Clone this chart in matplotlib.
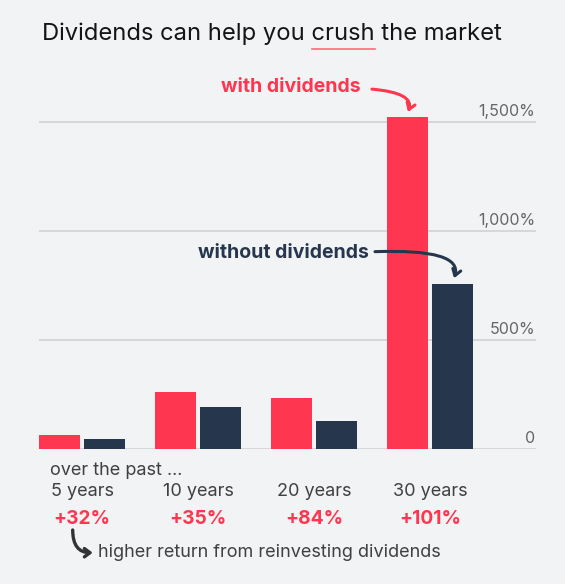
import matplotlib
matplotlib.use("Agg")
import matplotlib.pyplot as plt
import matplotlib.transforms as mtrans
import numpy as np

plt.rcParams["font.family"] = ["Inter", "DejaVu Sans"]

periods = ["5 years", "10 years", "20 years", "30 years"]
with_div = [64, 262, 234, 1523]
without_div = [48, 194, 128, 757]
extra = ["+32%", "+35%", "+84%", "+101%"]
yticks = [0, 500, 1000, 1500]
ytick_labels = ["0", "500%", "1,000%", "1,500%"]

RED = "#ff3650"
NAVY = "#26364d"
BG = "#f2f3f5"
GRID = "#d3d4d8"
GREY = "#404040"

fig = plt.figure(figsize=(5.65, 5.84), dpi=100, facecolor=BG)
ax = fig.add_axes([0.0696, 0.2306, 0.879, 0.5981], facecolor=BG)

x = np.arange(len(periods))
w = 0.349
ax.bar(x - 0.194, with_div, w, color=RED, zorder=3)
ax.bar(x + 0.194, without_div, w, color=NAVY, zorder=3)

ax.set_xlim(-0.370, 3.915)
ax.set_ylim(0, 1601)
for v in yticks:
    ax.axhline(v, color=GRID, lw=1.3, zorder=1)
ax.set_xticks([])
ax.set_yticks([])
for s in ax.spines.values():
    s.set_visible(False)

ylab_tr = mtrans.blended_transform_factory(ax.transAxes, ax.transData)
for v, lab in zip(yticks, ytick_labels):
    ax.text(0.998, v + 30, lab, transform=ylab_tr, ha="right", va="baseline",
            fontsize=11.5, color="#666666")

# title, "crush" gets a red underline
TS = 17.1
title = fig.text(0.0749, 0.9418, "Dividends can help you crush the market",
                 fontsize=TS, color="#151515", va="center", ha="left")
fig.canvas.draw()
r = fig.canvas.get_renderer()
tmp = fig.text(0.0749, 0.9418, "Dividends can help you crush", fontsize=TS,
               va="center", ha="left")
tmp2 = fig.text(0.0749, 0.9418, "crush", fontsize=TS, va="center", ha="left")
bb1 = tmp.get_window_extent(r)
bb2 = tmp2.get_window_extent(r)
tmp.remove()
tmp2.remove()
x1 = bb1.x1 / fig.bbox.width
x0 = (bb1.x1 - bb2.width) / fig.bbox.width
fig.add_artist(plt.Line2D([x0, x1], [1 - 49 / 584] * 2, transform=fig.transFigure,
                          color="#ff6b7b", lw=1.2))

# series labels with arrows
ax.text(1.797, 1660, "with dividends", color=RED, fontsize=14, fontweight="bold",
        ha="center", va="center", clip_on=False)
ax.annotate("", xy=(2.811, 1546), xytext=(2.50, 1651), annotation_clip=False,
            arrowprops=dict(arrowstyle="->,head_length=0.45,head_width=0.3", color=RED,
                            lw=2.2, connectionstyle="angle3,angleA=-5,angleB=70",
                            shrinkA=0, shrinkB=0))

ax.text(1.739, 901, "without dividends", color=NAVY, fontsize=14, fontweight="bold",
        ha="center", va="center")
ax.annotate("", xy=(3.208, 784), xytext=(2.526, 906), annotation_clip=False,
            arrowprops=dict(arrowstyle="->,head_length=0.45,head_width=0.3", color=NAVY,
                            lw=2.2, connectionstyle="angle3,angleA=2,angleB=72",
                            shrinkA=0, shrinkB=0), zorder=5)

# bottom labels
bt = mtrans.blended_transform_factory(ax.transData, fig.transFigure)
fig.text(0.0885, 0.1952, "over the past ...", fontsize=13, color=GREY, va="center")
for i, p in enumerate(periods):
    ax.text(i, 0.158, p, transform=bt, ha="center", va="center", fontsize=13, color=GREY)
    ax.text(i, 0.1113, extra[i], transform=bt, ha="center", va="center", fontsize=13.8,
            fontweight="bold", color=RED)

fig.text(0.173, 0.0531, "higher return from reinvesting dividends", fontsize=13,
         color=GREY, va="center")
ax.annotate("", xy=(0.0906, 0.0536), xytext=(-0.082, 0.0925), xycoords=bt, textcoords=bt,
            annotation_clip=False,
            arrowprops=dict(arrowstyle="->,head_length=0.4,head_width=0.3", color="#333333",
                            lw=2.4, connectionstyle="angle3,angleA=-90,angleB=0",
                            shrinkA=0, shrinkB=0))

fig.savefig("out.png", dpi=100, facecolor=BG)
